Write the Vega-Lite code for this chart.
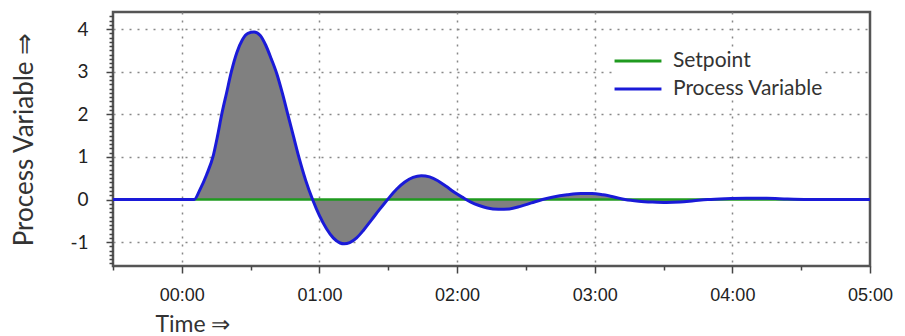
{
  "$schema": "https://vega.github.io/schema/vega-lite/v6.json",
  "width": 757,
  "height": 254,
  "autosize": "none",
  "padding": {"left": 113, "top": 12, "right": 35, "bottom": 70},
  "background": "white",
  "datasets": {
    "pv": [
      {"t": -0.5, "v": 0, "series": "Process Variable"},
      {"t": 0.09, "v": 0, "series": "Process Variable"},
      {"t": 0.13, "v": 0.22, "series": "Process Variable"},
      {"t": 0.18, "v": 0.58, "series": "Process Variable"},
      {"t": 0.23, "v": 1.05, "series": "Process Variable"},
      {"t": 0.26, "v": 1.5, "series": "Process Variable"},
      {"t": 0.29, "v": 2.0, "series": "Process Variable"},
      {"t": 0.325, "v": 2.5, "series": "Process Variable"},
      {"t": 0.36, "v": 3.0, "series": "Process Variable"},
      {"t": 0.4, "v": 3.45, "series": "Process Variable"},
      {"t": 0.44, "v": 3.75, "series": "Process Variable"},
      {"t": 0.48, "v": 3.9, "series": "Process Variable"},
      {"t": 0.525, "v": 3.93, "series": "Process Variable"},
      {"t": 0.57, "v": 3.85, "series": "Process Variable"},
      {"t": 0.61, "v": 3.62, "series": "Process Variable"},
      {"t": 0.65, "v": 3.3, "series": "Process Variable"},
      {"t": 0.69, "v": 2.95, "series": "Process Variable"},
      {"t": 0.73, "v": 2.5, "series": "Process Variable"},
      {"t": 0.77, "v": 2.0, "series": "Process Variable"},
      {"t": 0.81, "v": 1.5, "series": "Process Variable"},
      {"t": 0.85, "v": 1.0, "series": "Process Variable"},
      {"t": 0.9, "v": 0.45, "series": "Process Variable"},
      {"t": 0.95, "v": 0.0, "series": "Process Variable"},
      {"t": 1.0, "v": -0.38, "series": "Process Variable"},
      {"t": 1.05, "v": -0.68, "series": "Process Variable"},
      {"t": 1.1, "v": -0.9, "series": "Process Variable"},
      {"t": 1.15, "v": -1.02, "series": "Process Variable"},
      {"t": 1.18, "v": -1.04, "series": "Process Variable"},
      {"t": 1.22, "v": -1.01, "series": "Process Variable"},
      {"t": 1.27, "v": -0.9, "series": "Process Variable"},
      {"t": 1.32, "v": -0.72, "series": "Process Variable"},
      {"t": 1.38, "v": -0.47, "series": "Process Variable"},
      {"t": 1.44, "v": -0.22, "series": "Process Variable"},
      {"t": 1.5, "v": 0.02, "series": "Process Variable"},
      {"t": 1.56, "v": 0.24, "series": "Process Variable"},
      {"t": 1.62, "v": 0.41, "series": "Process Variable"},
      {"t": 1.68, "v": 0.52, "series": "Process Variable"},
      {"t": 1.74, "v": 0.56, "series": "Process Variable"},
      {"t": 1.8, "v": 0.53, "series": "Process Variable"},
      {"t": 1.86, "v": 0.44, "series": "Process Variable"},
      {"t": 1.92, "v": 0.31, "series": "Process Variable"},
      {"t": 1.98, "v": 0.17, "series": "Process Variable"},
      {"t": 2.04, "v": 0.05, "series": "Process Variable"},
      {"t": 2.1, "v": -0.06, "series": "Process Variable"},
      {"t": 2.16, "v": -0.14, "series": "Process Variable"},
      {"t": 2.22, "v": -0.2, "series": "Process Variable"},
      {"t": 2.3, "v": -0.23, "series": "Process Variable"},
      {"t": 2.38, "v": -0.22, "series": "Process Variable"},
      {"t": 2.46, "v": -0.16, "series": "Process Variable"},
      {"t": 2.54, "v": -0.08, "series": "Process Variable"},
      {"t": 2.62, "v": 0.0, "series": "Process Variable"},
      {"t": 2.7, "v": 0.06, "series": "Process Variable"},
      {"t": 2.8, "v": 0.11, "series": "Process Variable"},
      {"t": 2.9, "v": 0.14, "series": "Process Variable"},
      {"t": 2.98, "v": 0.14, "series": "Process Variable"},
      {"t": 3.06, "v": 0.11, "series": "Process Variable"},
      {"t": 3.14, "v": 0.06, "series": "Process Variable"},
      {"t": 3.22, "v": 0.0, "series": "Process Variable"},
      {"t": 3.32, "v": -0.04, "series": "Process Variable"},
      {"t": 3.42, "v": -0.06, "series": "Process Variable"},
      {"t": 3.52, "v": -0.07, "series": "Process Variable"},
      {"t": 3.62, "v": -0.06, "series": "Process Variable"},
      {"t": 3.72, "v": -0.03, "series": "Process Variable"},
      {"t": 3.82, "v": 0.0, "series": "Process Variable"},
      {"t": 3.95, "v": 0.02, "series": "Process Variable"},
      {"t": 4.1, "v": 0.03, "series": "Process Variable"},
      {"t": 4.25, "v": 0.03, "series": "Process Variable"},
      {"t": 4.4, "v": 0.01, "series": "Process Variable"},
      {"t": 4.55, "v": 0.0, "series": "Process Variable"},
      {"t": 5.0, "v": 0, "series": "Process Variable"}
    ],
    "sp": [
      {"t": -0.5, "v": 0, "series": "Setpoint"},
      {"t": 5.0, "v": 0, "series": "Setpoint"}
    ]
  },
  "encoding": {
    "x": {
      "field": "t",
      "type": "quantitative",
      "scale": {"domain": [-0.5, 5], "nice": false, "zero": false},
      "axis": {
        "title": "Time ⇒",
        "titleAnchor": "start",
        "titleAlign": "left",
        "titleX": 42,
        "titleY": 58,
        "titleBaseline": "middle",
        "titleFont": "Lato",
        "titleFontSize": 23,
        "titleFontWeight": "normal",
        "titleColor": "#333333",
        "values": [-0.5, 0, 0.5, 1, 1.5, 2, 2.5, 3, 3.5, 4, 4.5, 5],
        "labelExpr": "(datum.value % 1 == 0 && datum.value >= 0) ? '0' + datum.value + ':00' : ''",
        "labelFont": "Liberation Sans",
        "labelFontSize": 18,
        "labelColor": "#222222",
        "labelPadding": 13,
        "labelFlush": false,
        "domain": false,
        "tickColor": "#444444",
        "tickWidth": 1.5,
        "tickSize": {"condition": {"test": "datum.value % 1 == 0", "value": 7}, "value": 4},
        "grid": true,
        "gridColor": "#888888",
        "gridDash": [2, 6],
        "gridWidth": 1.5,
        "gridOpacity": {"condition": {"test": "datum.value % 1 == 0 && datum.value >= 0 && datum.value < 5", "value": 1}, "value": 0}
      }
    },
    "y": {
      "field": "v",
      "type": "quantitative",
      "scale": {"domain": [-1.56, 4.4], "nice": false, "zero": false},
      "axis": {
        "title": "Process Variable ⇒",
        "titleFont": "Lato",
        "titleFontSize": 26,
        "titleFontWeight": "normal",
        "titleColor": "#333333",
        "titleX": -89,
        "titleBaseline": "middle",
        "values": [-1.5, -1.4, -1.3, -1.2, -1.1, -1, -0.9, -0.8, -0.7, -0.6, -0.5, -0.4, -0.3, -0.2, -0.1, 0, 0.1, 0.2, 0.3, 0.4, 0.5, 0.6, 0.7, 0.8, 0.9, 1, 1.1, 1.2, 1.3, 1.4, 1.5, 1.6, 1.7, 1.8, 1.9, 2, 2.1, 2.2, 2.3, 2.4, 2.5, 2.6, 2.7, 2.8, 2.9, 3, 3.1, 3.2, 3.3, 3.4, 3.5, 3.6, 3.7, 3.8, 3.9, 4, 4.1, 4.2, 4.3],
        "labelExpr": "abs(datum.value - round(datum.value)) < 0.001 ? '' + round(datum.value) : ''",
        "labelFont": "Lato",
        "labelFontSize": 19,
        "labelColor": "#222222",
        "labelPadding": 18,
        "labelFlush": false,
        "domain": false,
        "tickColor": "#444444",
        "tickWidth": 1.5,
        "tickSize": {"condition": {"test": "abs(datum.value - round(datum.value)) < 0.001", "value": 7}, "value": 4},
        "grid": true,
        "gridColor": "#888888",
        "gridDash": [2, 6],
        "gridWidth": 1.5,
        "gridOpacity": {"condition": {"test": "abs(datum.value - round(datum.value)) < 0.001 && abs(datum.value) > 0.001", "value": 1}, "value": 0}
      }
    }
  },
  "layer": [
    {
      "data": {"name": "pv"},
      "mark": {"type": "area", "color": "#808080", "opacity": 1, "interpolate": "monotone"}
    },
    {
      "data": {"name": "sp"},
      "mark": {"type": "line", "strokeWidth": 2.5},
      "encoding": {
        "color": {
          "field": "series",
          "type": "nominal",
          "scale": {"domain": ["Setpoint", "Process Variable"], "range": ["#1f9a1f", "#1a1ad8"]},
          "legend": {
            "title": null,
            "orient": "none",
            "legendX": 500,
            "legendY": 39,
            "symbolType": "stroke",
            "symbolStrokeWidth": 3,
            "symbolSize": 2200,
            "clipHeight": 20,
            "rowPadding": 7,
            "labelFont": "Lato",
            "labelFontSize": 21,
            "labelColor": "#333333",
            "labelOffset": 10,
            "fillColor": "white"
          }
        }
      }
    },
    {
      "data": {"name": "pv"},
      "mark": {"type": "line", "strokeWidth": 3, "interpolate": "monotone"},
      "encoding": {
        "color": {"field": "series", "type": "nominal"}
      }
    }
  ],
  "config": {
    "view": {"stroke": "#555555", "strokeWidth": 2.5}
  }
}
